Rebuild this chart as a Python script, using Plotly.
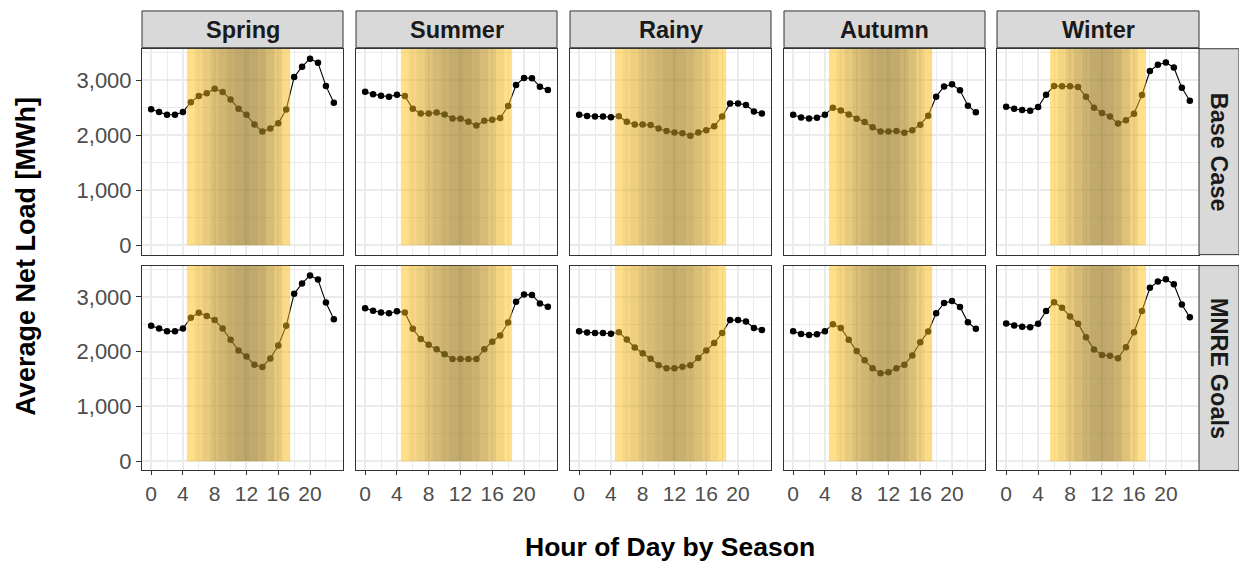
import plotly.graph_objects as go

W, H = 1239, 565

hours = list(range(24))
seasons = ["Spring", "Summer", "Rainy", "Autumn", "Winter"]
scenarios = ["Base Case", "MNRE Goals"]

# Average net load per hour [MWh], Base Case
spring_base = [2470, 2420, 2370, 2370, 2420, 2600, 2710, 2760, 2845, 2785, 2650, 2480,
               2370, 2195, 2065, 2120, 2215, 2465, 3055, 3245, 3390, 3315, 2895, 2590]
summer_base = [2790, 2745, 2715, 2700, 2735, 2710, 2480, 2395, 2395, 2410, 2375, 2305,
               2300, 2245, 2175, 2260, 2280, 2310, 2530, 2910, 3040, 3035, 2880, 2820]
rainy_base = [2370, 2350, 2340, 2340, 2325, 2345, 2245, 2195, 2195, 2185, 2120, 2075,
              2050, 2035, 1990, 2050, 2090, 2160, 2340, 2575, 2575, 2550, 2430, 2395]
autumn_base = [2370, 2320, 2305, 2315, 2370, 2500, 2450, 2375, 2300, 2240, 2145, 2065,
               2065, 2075, 2045, 2090, 2190, 2355, 2700, 2885, 2925, 2815, 2535, 2415]
winter_base = [2515, 2478, 2455, 2445, 2510, 2735, 2895, 2890, 2890, 2875, 2700, 2500,
               2405, 2340, 2210, 2270, 2390, 2730, 3165, 3280, 3320, 3230, 2860, 2625]

# Average net load per hour [MWh], MNRE Goals
spring_mnre = [2470, 2420, 2370, 2370, 2420, 2620, 2710, 2650, 2575, 2420, 2215, 2020,
               1910, 1760, 1720, 1875, 2110, 2470, 3055, 3245, 3390, 3315, 2895, 2590]
summer_mnre = [2790, 2745, 2715, 2700, 2735, 2715, 2415, 2230, 2125, 2045, 1950, 1865,
               1865, 1865, 1865, 2045, 2180, 2295, 2530, 2910, 3040, 3035, 2880, 2820]
rainy_mnre = [2370, 2350, 2340, 2340, 2325, 2355, 2220, 2075, 1970, 1870, 1750, 1695,
              1695, 1725, 1750, 1885, 2020, 2155, 2340, 2575, 2575, 2550, 2430, 2395]
autumn_mnre = [2370, 2320, 2305, 2315, 2370, 2500, 2430, 2215, 2010, 1840, 1695, 1605,
               1625, 1695, 1760, 1930, 2170, 2365, 2700, 2885, 2925, 2815, 2535, 2415]
winter_mnre = [2515, 2478, 2455, 2445, 2510, 2740, 2900, 2800, 2640, 2510, 2260, 2040,
               1940, 1925, 1880, 2080, 2355, 2740, 3165, 3280, 3320, 3230, 2860, 2625]

base_case = [spring_base, summer_base, rainy_base, autumn_base, winter_base]
mnre_goals = [spring_mnre, summer_mnre, rainy_mnre, autumn_mnre, winter_mnre]
series = [base_case, mnre_goals]

# Daylight hours per season (first and last sunlit hour)
sun_first = [5, 5, 5, 5, 6]
sun_last = [17, 18, 18, 17, 17]
# Relative solar intensity for each sunlit hour (drives the darkening of the band)
solar_spring = [0.0, 0.05, 0.12, 0.2, 0.26, 0.3, 0.34, 0.36, 0.34, 0.3, 0.22, 0.12, 0.02]
solar_summer = [0.0, 0.05, 0.1, 0.17, 0.23, 0.28, 0.32, 0.34, 0.32, 0.28, 0.22, 0.14, 0.06, 0.0]
solar_rainy = [0.0, 0.05, 0.1, 0.16, 0.22, 0.26, 0.3, 0.32, 0.3, 0.26, 0.2, 0.13, 0.05, 0.0]
solar_autumn = [0.0, 0.06, 0.13, 0.2, 0.26, 0.31, 0.34, 0.35, 0.33, 0.28, 0.2, 0.1, 0.02]
solar_winter = [0.0, 0.06, 0.14, 0.22, 0.28, 0.33, 0.35, 0.33, 0.27, 0.18, 0.08, 0.0]
solar = [solar_spring, solar_summer, solar_rainy, solar_autumn, solar_winter]

y_ticks = [0, 1000, 2000, 3000]
x_ticks = [0, 4, 8, 12, 16, 20]

FONT = "Liberation Sans, Arial, sans-serif"
GRID = "#EBEBEB"
BORDER = "#333333"
Y_RANGE = [-170, 3570]
X_RANGE = [-1.15, 24.15]

col_px = [(142, 343), (356, 557), (570, 771), (784, 985), (997, 1199)]
row_px = [(49, 256), (267, 473)]


def px_x(p):
    return p / W


def px_y(p):
    return (H - p) / H


fig = go.Figure()
shapes = []
annotations = []

for r in range(2):
    for c in range(5):
        idx = r * 5 + c + 1
        sfx = "" if idx == 1 else str(idx)
        xa, ya = "xaxis" + sfx, "yaxis" + sfx
        xr, yr = "x" + sfx, "y" + sfx

        fig.add_trace(go.Scatter(
            x=hours, y=series[r][c], mode="lines+markers",
            line=dict(color="black", width=1.1),
            marker=dict(color="black", size=6.5),
            xaxis=xr, yaxis=yr, showlegend=False, hoverinfo="x+y"))

        x0p, x1p = col_px[c]
        y0p, y1p = row_px[r]
        fig.layout[xa] = dict(
            domain=[px_x(x0p), px_x(x1p)], anchor=yr, range=X_RANGE,
            tickvals=x_ticks, showticklabels=(r == 1),
            ticks="outside" if r == 1 else "", ticklen=4, tickwidth=1, tickcolor=BORDER,
            tickfont=dict(family=FONT, size=21, color="#4D4D4D"),
            showgrid=True, gridcolor=GRID, gridwidth=2,
            minor=dict(tickvals=[2, 6, 10, 14, 18, 22], showgrid=True, gridcolor=GRID, gridwidth=1),
            showline=True, mirror=True, linecolor=BORDER, linewidth=1, zeroline=False)
        fig.layout[ya] = dict(
            domain=[px_y(y1p), px_y(y0p)], anchor=xr, range=Y_RANGE,
            tickvals=y_ticks, showticklabels=(c == 0), tickformat=",",
            ticks="outside" if c == 0 else "", ticklen=5, tickwidth=1, tickcolor=BORDER,
            tickfont=dict(family=FONT, size=22, color="#4D4D4D"),
            showgrid=True, gridcolor=GRID, gridwidth=2,
            minor=dict(tickvals=[500, 1500, 2500, 3500], showgrid=True, gridcolor=GRID, gridwidth=1),
            showline=True, mirror=True, linecolor=BORDER, linewidth=1, zeroline=False)

        # daylight band drawn over the series
        shapes.append(dict(type="rect", xref=xr, yref=yr, layer="above",
                           x0=sun_first[c] - 0.5, x1=sun_last[c] + 0.5, y0=0, y1=Y_RANGE[1],
                           fillcolor="rgba(255,192,20,0.5)", line=dict(width=0)))
        for k, a in enumerate(solar[c]):
            if a <= 0:
                continue
            h = sun_first[c] + k
            shapes.append(dict(type="rect", xref=xr, yref=yr, layer="above",
                               x0=h - 0.5, x1=h + 0.5, y0=0, y1=Y_RANGE[1],
                               fillcolor=f"rgba(70,65,55,{a})", line=dict(width=0)))

# facet strips along the top
for c, name in enumerate(seasons):
    x0p, x1p = col_px[c]
    shapes.append(dict(type="rect", xref="paper", yref="paper",
                       x0=px_x(x0p), x1=px_x(x1p), y0=px_y(48), y1=px_y(11),
                       fillcolor="#D9D9D9", line=dict(color=BORDER, width=1)))
    annotations.append(dict(text=f"<b>{name}</b>", xref="paper", yref="paper",
                            x=px_x((x0p + x1p) / 2), y=px_y(30), showarrow=False,
                            xanchor="center", yanchor="middle",
                            font=dict(family=FONT, size=23.5, color="#1A1A1A")))

# facet strips along the right side
for r, name in enumerate(scenarios):
    y0p, y1p = row_px[r]
    shapes.append(dict(type="rect", xref="paper", yref="paper",
                       x0=px_x(1199), x1=px_x(1239), y0=px_y(y1p), y1=px_y(y0p),
                       fillcolor="#D9D9D9", line=dict(color=BORDER, width=1)))
    annotations.append(dict(text=f"<b>{name}</b>", xref="paper", yref="paper",
                            x=px_x(1219), y=px_y((y0p + y1p) / 2), showarrow=False,
                            textangle=90, xanchor="center", yanchor="middle",
                            font=dict(family=FONT, size=23.5, color="#1A1A1A")))

annotations.append(dict(text="<b>Average Net Load [MWh]</b>", xref="paper", yref="paper",
                        x=px_x(26), y=px_y(258), showarrow=False, textangle=-90,
                        xanchor="center", yanchor="middle",
                        font=dict(family=FONT, size=27, color="black")))
annotations.append(dict(text="<b>Hour of Day by Season</b>", xref="paper", yref="paper",
                        x=px_x(670), y=px_y(550), showarrow=False,
                        xanchor="center", yanchor="middle",
                        font=dict(family=FONT, size=26.5, color="black")))

fig.update_layout(width=W, height=H, margin=dict(l=0, r=0, t=0, b=0),
                  paper_bgcolor="white", plot_bgcolor="white",
                  shapes=shapes, annotations=annotations, showlegend=False)

fig.write_html("out.html")
